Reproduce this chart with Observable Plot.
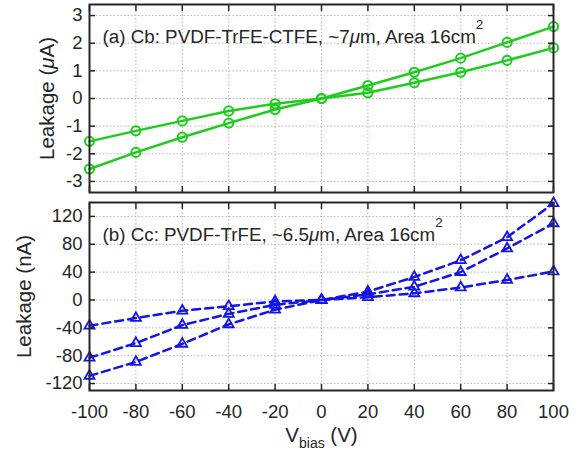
<!DOCTYPE html>
<html>
<head>
<meta charset="utf-8">
<script src="https://cdn.jsdelivr.net/npm/d3@7"></script>
<script src="https://cdn.jsdelivr.net/npm/@observablehq/plot@0.6"></script>
<style>
  html, body { margin: 0; padding: 0; background: #fff; }
  #chart { width: 581px; height: 452px; overflow: hidden; }
  #chart svg { display: block; }
</style>
</head>
<body>
<div id="chart"></div>
<script>
// ---- data ----
const vbias = [-100, -80, -60, -40, -20, 0, 20, 40, 60, 80, 100];
// panel (a) Cb, leakage in µA
const cbSweep1 = [-2.55, -1.95, -1.40, -0.89, -0.40, 0, 0.47, 0.95, 1.46, 2.03, 2.60];
const cbSweep2 = [-1.55, -1.17, -0.81, -0.45, -0.19, 0, 0.21, 0.57, 0.95, 1.38, 1.83];
// panel (b) Cc, leakage in nA
const ccSweep1 = [-109, -89, -63, -35, -14, 0, 12, 33, 57, 90, 139];
const ccSweep2 = [-83, -62, -36, -20, -7, 0, 8, 19, 40, 74, 110];
const ccSweep3 = [-37, -26, -15.5, -9, -2, 0, 4, 9.5, 18, 28.6, 41];

const xTicks = [-100, -80, -60, -40, -20, 0, 20, 40, 60, 80, 100];
const yTicksA = [-3, -2, -1, 0, 1, 2, 3];
const yTicksB = [-120, -80, -40, 0, 40, 80, 120];

const titleA = "(a) Cb: PVDF-TrFE-CTFE, ~7μm, Area 16cm²";
const titleB = "(b) Cc: PVDF-TrFE, ~6.5μm, Area 16cm²";
const yLabelA = "Leakage (μA)";
const yLabelB = "Leakage (nA)";
const xLabel = "V_bias (V)";

// ---- styling ----
const green = "#1ecc1e";
const blue = "#1414e6";
const ink = "#262626";
const FS = 18.5;   // tick labels
const FT = 18.8;   // panel annotations
const FL = 20.5;   // axis labels
const gridStyle = {stroke: "#b4b4b4", strokeOpacity: 1, strokeDasharray: "1.5,2", strokeWidth: 1};
const font = {fontFamily: "'Liberation Sans', Arial, sans-serif", fontSize: FS + "px", background: "#fff", color: ink, overflow: "visible"};
const plain = d => `${d}`;

const rowsA = vbias.flatMap((v, i) => [
  {v, y: cbSweep1[i], s: "1"},
  {v, y: cbSweep2[i], s: "2"}
]);
const rowsB = vbias.flatMap((v, i) => [
  {v, y: ccSweep1[i], s: "1"},
  {v, y: ccSweep2[i], s: "2"},
  {v, y: ccSweep3[i], s: "3"}
]);

function frameAxes(yTicks, showXLabels) {
  return [
    Plot.axisY(yTicks, {anchor: "left", tickSize: -6, text: null, stroke: ink, strokeWidth: 1.5, label: null}),
    Plot.axisY(yTicks, {anchor: "right", tickSize: -6, text: null, stroke: ink, strokeWidth: 1.5, label: null}),
    Plot.axisX(xTicks, {anchor: "top", tickSize: -6, text: null, stroke: ink, strokeWidth: 1.5, label: null}),
    Plot.axisX(xTicks, {anchor: "bottom", tickSize: -6, text: null, stroke: ink, strokeWidth: 1.5, label: null}),
    Plot.axisY(yTicks, {anchor: "left", tickSize: 0, tickPadding: 7, label: null, fill: ink, fontSize: FS, tickFormat: plain}),
    ...(showXLabels ? [Plot.axisX(xTicks, {anchor: "bottom", tickSize: 0, tickPadding: 14, label: null, fill: ink, fontSize: FS, tickFormat: plain})] : []),
    Plot.frame({stroke: ink, strokeWidth: 2})
  ];
}

const plotA = Plot.plot({
  width: 581, height: 196,
  marginTop: 4, marginBottom: 4, marginLeft: 89, marginRight: 28,
  style: font,
  x: {domain: [-100, 100]},
  y: {domain: [-3.4, 3.4]},
  marks: [
    Plot.gridX(xTicks, gridStyle),
    Plot.gridY(yTicksA, gridStyle),
    Plot.line(rowsA, {x: "v", y: "y", z: "s", stroke: green, strokeWidth: 2.5}),
    Plot.dot(rowsA, {x: "v", y: "y", r: 4.6, stroke: green, strokeWidth: 2, fill: "none"}),
    ...frameAxes(yTicksA, false),
    Plot.text([titleA], {frameAnchor: "top-left", dx: 13, dy: 38, lineAnchor: "bottom", textAnchor: "start", fill: ink, fontSize: FT}),
    Plot.text([yLabelA], {frameAnchor: "left", rotate: -90, dx: -42, lineAnchor: "middle", textAnchor: "middle", fill: ink, fontSize: FL})
  ]
});

const plotB = Plot.plot({
  width: 581, height: 256,
  marginTop: 6, marginBottom: 62, marginLeft: 89, marginRight: 28,
  style: font,
  x: {domain: [-100, 100]},
  y: {domain: [-130, 140]},
  marks: [
    Plot.gridX(xTicks, gridStyle),
    Plot.gridY(yTicksB, gridStyle),
    Plot.line(rowsB, {x: "v", y: "y", z: "s", stroke: blue, strokeWidth: 2.5, strokeDasharray: "8,5"}),
    Plot.dot(rowsB, {x: "v", y: "y", symbol: "triangle", r: 3.7, stroke: blue, strokeWidth: 1.8, fill: "none"}),
    ...frameAxes(yTicksB, true),
    Plot.text([titleB], {frameAnchor: "top-left", dx: 13, dy: 38, lineAnchor: "bottom", textAnchor: "start", fill: ink, fontSize: FT}),
    Plot.text([yLabelB], {frameAnchor: "left", rotate: -90, dx: -65, lineAnchor: "middle", textAnchor: "middle", fill: ink, fontSize: FL}),
    Plot.text([xLabel], {frameAnchor: "bottom", dy: 51, lineAnchor: "bottom", textAnchor: "middle", fill: ink, fontSize: FL})
  ]
});

// rich text: italic mu, superscript 2, subscript "bias"
function richify(svg) {
  d3.select(svg).selectAll("text").each(function () {
    const t = this.textContent;
    if (!/[μ²]|_bias/.test(t)) return;
    const sel = d3.select(this);
    sel.text(null);
    const parts = t.split(/(μ|²|_bias)/).filter(p => p !== "");
    let shift = 0;
    for (const p of parts) {
      const ts = sel.append("tspan");
      if (p === "μ") {
        ts.attr("font-style", "italic").text("μ");
        if (shift) { ts.attr("dy", -shift); shift = 0; }
      } else if (p === "²") {
        ts.attr("font-size", 13.5).attr("dy", -14).text("2");
        shift = -14;
      } else if (p === "_bias") {
        ts.attr("font-size", 14).attr("dy", 6.5).text("bias");
        shift = 6.5;
      } else {
        ts.text(p);
        if (shift) { ts.attr("dy", -shift); shift = 0; }
      }
    }
  });
}
richify(plotA);
richify(plotB);

const chart = document.getElementById("chart");
chart.append(plotA, plotB);
</script>
</body>
</html>
